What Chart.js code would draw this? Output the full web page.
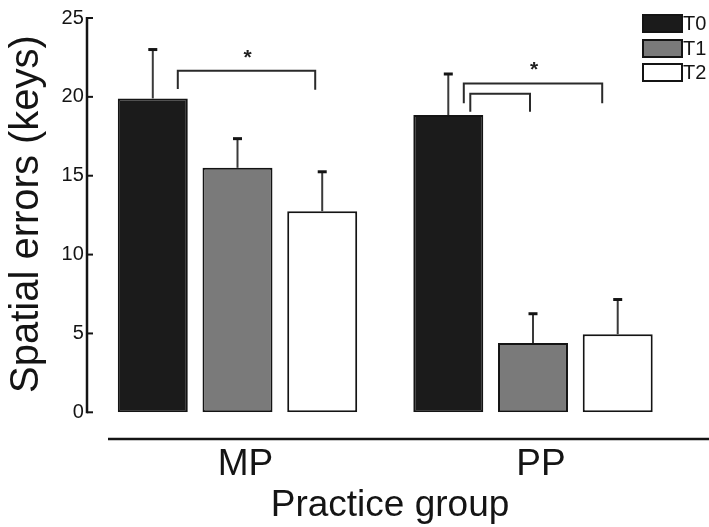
<!DOCTYPE html>
<html>
<head>
<meta charset="utf-8">
<script src="https://cdn.jsdelivr.net/npm/chart.js@4.4.1/dist/chart.umd.min.js"></script>
<style>
  html, body { margin: 0; padding: 0; background: #fff; }
  canvas { display: block; }
</style>
</head>
<body>
<canvas id="c" width="709" height="527"></canvas>
<script>
// Practice groups and test sessions
const groups = ['MP', 'PP'];
const seriesNames = ['T0', 'T1', 'T2'];

// Mean spatial errors (keys) per session, one value per group
const meanT0 = [19.9, 18.85];
const meanT1 = [15.5, 4.4];
const meanT2 = [12.75, 4.95];

// Error bar half-lengths (keys)
const errT0 = [3.1, 2.6];
const errT1 = [1.85, 1.85];
const errT2 = [2.5, 2.2];

const yTicks = [0, 5, 10, 15, 20, 25];

// Significance brackets: group, first and last bar, bracket level and leg ends (keys)
const brackets = [
  { group: 0, from: 0, to: 2, top: 21.65, legFrom: 20.5,  legTo: 20.45, star: true },
  { group: 1, from: 0, to: 2, top: 20.85, legFrom: 19.6,  legTo: 19.6,  star: true },
  { group: 1, from: 0, to: 1, top: 20.2,  legFrom: 19.05, legTo: 19.05, star: false }
];

const FONT = "'Liberation Sans', Arial, Helvetica, sans-serif";
const INK = '#141414';

const fills = ['#1b1b1b', '#7a7a7a', '#ffffff'];
const means = [meanT0, meanT1, meanT2];
const errs = [errT0, errT1, errT2];

const datasets = seriesNames.map((name, i) => ({
  label: name,
  data: means[i],
  errors: errs[i],
  backgroundColor: fills[i],
  borderColor: INK,
  borderWidth: 2,
  borderSkipped: false
}));

// Axis lines, inward ticks, category labels, titles and legend
const decorations = {
  id: 'decorations',
  afterDraw(chart) {
    const { ctx, chartArea, scales } = chart;
    const y = scales.y, x = scales.x;
    ctx.save();
    ctx.strokeStyle = INK;
    ctx.fillStyle = INK;

    // vertical axis with ticks pointing inside
    const axisX = chartArea.left - 2.75;
    ctx.lineWidth = 2.5;
    ctx.beginPath();
    ctx.moveTo(axisX, y.getPixelForValue(25) - 1);
    ctx.lineTo(axisX, y.getPixelForValue(0) + 1);
    ctx.stroke();
    ctx.lineWidth = 2;
    yTicks.forEach(v => {
      const py = y.getPixelForValue(v);
      ctx.beginPath();
      ctx.moveTo(axisX, py);
      ctx.lineTo(axisX + 6, py);
      ctx.stroke();
    });

    // horizontal rule under the bars
    const ruleY = chartArea.bottom + 26.7;
    ctx.lineWidth = 2.5;
    ctx.beginPath();
    ctx.moveTo(108, ruleY);
    ctx.lineTo(709, ruleY);
    ctx.stroke();

    // group labels
    ctx.font = '37px ' + FONT;
    ctx.textAlign = 'center';
    ctx.textBaseline = 'alphabetic';
    groups.forEach((g, i) => {
      ctx.fillText(g, x.getPixelForValue(i) + 8, 475);
    });

    // axis titles
    ctx.font = '37px ' + FONT;
    ctx.fillText('Practice group', 390, 516);
    ctx.save();
    ctx.translate(37.5, 214);
    ctx.rotate(-Math.PI / 2);
    ctx.font = '40px ' + FONT;
    ctx.textBaseline = 'alphabetic';
    ctx.fillText('Spatial errors (keys)', 0, 0);
    ctx.restore();

    // legend
    const tops = [15, 40, 64];
    ctx.textAlign = 'left';
    ctx.textBaseline = 'middle';
    ctx.font = '20px ' + FONT;
    chart.data.datasets.forEach((ds, i) => {
      ctx.fillStyle = ds.backgroundColor;
      ctx.fillRect(643, tops[i], 39, 17);
      ctx.lineWidth = 2;
      ctx.strokeStyle = INK;
      ctx.strokeRect(643, tops[i], 39, 17);
      ctx.fillStyle = INK;
      ctx.fillText(ds.label, 683, tops[i] + 9.5);
    });
    ctx.restore();
  }
};

// Error bars and significance brackets, placed from the bar elements
const annotations = {
  id: 'annotations',
  afterDatasetsDraw(chart, args, opts) {
    const { ctx, scales } = chart;
    const y = scales.y;
    ctx.save();
    chart.data.datasets.forEach((ds, i) => {
      const meta = chart.getDatasetMeta(i);
      meta.data.forEach((bar, j) => {
        const top = y.getPixelForValue(ds.data[j]);
        const end = y.getPixelForValue(ds.data[j] + ds.errors[j]);
        ctx.strokeStyle = '#3a3a3a';
        ctx.lineWidth = 2;
        ctx.beginPath();
        ctx.moveTo(bar.x, top);
        ctx.lineTo(bar.x, end);
        ctx.stroke();
        ctx.strokeStyle = INK;
        ctx.lineWidth = 3;
        ctx.beginPath();
        ctx.moveTo(bar.x - 4.5, end);
        ctx.lineTo(bar.x + 4.5, end);
        ctx.stroke();
      });
    });

    brackets.forEach((b, k) => {
      const inset = opts.insets[k];
      const x0 = chart.getDatasetMeta(b.from).data[b.group].x + inset[0];
      const x1 = chart.getDatasetMeta(b.to).data[b.group].x + inset[1];
      const yt = y.getPixelForValue(b.top);
      ctx.strokeStyle = '#2a2a2a';
      ctx.lineWidth = 2;
      ctx.beginPath();
      ctx.moveTo(x0, y.getPixelForValue(b.legFrom));
      ctx.lineTo(x0, yt);
      ctx.lineTo(x1, yt);
      ctx.lineTo(x1, y.getPixelForValue(b.legTo));
      ctx.stroke();
      if (b.star) {
        ctx.fillStyle = '#222';
        ctx.font = 'bold 21px ' + FONT;
        ctx.textAlign = 'center';
        ctx.textBaseline = 'alphabetic';
        const m = ctx.measureText('*');
        const cy = yt - 17;
        const base = cy + (m.actualBoundingBoxAscent - m.actualBoundingBoxDescent) / 2;
        ctx.fillText('*', (x0 + x1) / 2 + 1, base);
      }
    });
    ctx.restore();
  }
};

new Chart(document.getElementById('c'), {
  type: 'bar',
  data: { labels: groups, datasets },
  options: {
    responsive: false,
    animation: false,
    layout: { padding: { top: 14.7, bottom: 114.7, right: 28.25, left: 0 } },
    datasets: { bar: { categoryPercentage: 0.86, barPercentage: 0.826 } },
    plugins: {
      legend: { display: false },
      tooltip: { enabled: false },
      annotations: { insets: [[25, -7], [15.5, -15.5], [22, -3]] }
    },
    scales: {
      x: { display: false, offset: true },
      y: {
        min: 0,
        max: 25,
        afterFit(scale) { scale.width = 89.75; },
        afterBuildTicks(scale) { scale.ticks = yTicks.map(v => ({ value: v })); },
        grid: { display: false, drawTicks: false },
        border: { display: false },
        ticks: { padding: 6, color: INK, font: { family: FONT, size: 20 } }
      }
    }
  },
  plugins: [annotations, decorations]
});
</script>
</body>
</html>
